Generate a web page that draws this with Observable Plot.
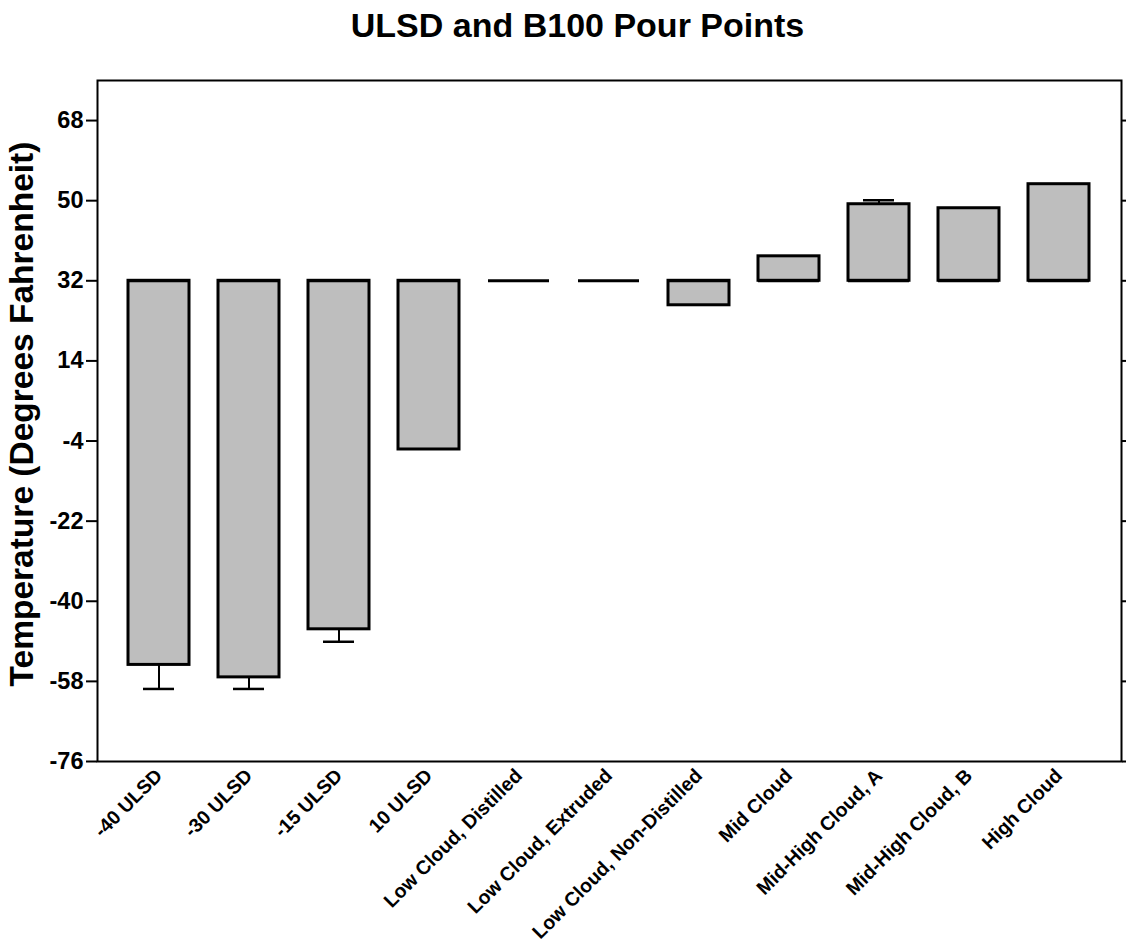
<!DOCTYPE html>
<html>
<head>
<meta charset="utf-8">
<script src="https://cdn.jsdelivr.net/npm/d3@7"></script>
<script src="https://cdn.jsdelivr.net/npm/@observablehq/plot@0.6"></script>
<style>
  html, body { margin: 0; padding: 0; background: #fff; }
  #chart svg { display: block; }
</style>
</head>
<body>
<div id="chart"></div>
<script>
const categories = ["-40 ULSD", "-30 ULSD", "-15 ULSD", "10 ULSD", "Low Cloud, Distilled", "Low Cloud, Extruded", "Low Cloud, Non-Distilled", "Mid Cloud", "Mid-High Cloud, A", "Mid-High Cloud, B", "High Cloud"];
const pourPoints = [-54.3, -57.1, -46.3, -5.9, 32, 32, 26.5, 37.5, 49.2, 48.3, 53.7];
const errors = [5.4, 2.6, 2.8, 0, 0, 0, 0, 0, 0.9, 0, 0];
const baseline = 32;
const yTicks = [-76, -58, -40, -22, -4, 14, 32, 50, 68];
const title = "ULSD and B100 Pour Points";
const yLabel = "Temperature (Degrees Fahrenheit)";

const data = categories.map((name, i) => ({
  name,
  value: pourPoints[i],
  err: errors[i],
  end: pourPoints[i] + Math.sign(pourPoints[i] - baseline) * errors[i]
}));
const errData = data.filter(d => d.err > 0);

const chart = Plot.plot({
  width: 1126,
  height: 952,
  marginLeft: 97,
  marginRight: 5,
  marginTop: 80,
  marginBottom: 191,
  style: { fontFamily: "'Liberation Sans', Arial, sans-serif", color: "#000", background: "#fff" },
  x: { domain: categories, padding: 0.32, label: null },
  y: { domain: [-76, 77], label: null },
  marks: [
    Plot.axisY({ ticks: yTicks, tickSize: 11, tickPadding: 3, tickFormat: d => String(d), fontSize: 23.5, fontWeight: "bold", strokeWidth: 2, label: null }),
    Plot.axisY({ anchor: "right", ticks: yTicks, tickSize: 5, tickFormat: () => "", strokeWidth: 2, label: null }),
    Plot.axisX({ tickRotate: -45, tickSize: 0, tickPadding: 11, fontSize: 19.5, fontWeight: "bold", label: null }),
    Plot.barY(data, { x: "name", y1: baseline, y2: "value", fill: "#bebebe", stroke: "#000", strokeWidth: 3 }),
    Plot.tickY(data, { x: "name", y: baseline, stroke: "#000", strokeWidth: 3 }),
    Plot.ruleX(errData, { x: "name", y1: "value", y2: "end", stroke: "#000", strokeWidth: 2 }),
    Plot.tickY(errData, { x: "name", y: "end", stroke: "#000", strokeWidth: 2.5, insetLeft: 15, insetRight: 15 }),
    Plot.frame({ stroke: "#000", strokeWidth: 2 }),
    Plot.text([title], { frameAnchor: "top", lineAnchor: "middle", dx: -32, dy: -54, fontSize: 34, fontWeight: "bold", fill: "#000" }),
    Plot.text([yLabel], { frameAnchor: "left", textAnchor: "middle", lineAnchor: "middle", rotate: -90, dx: -75, dy: -7, fontSize: 33.5, fontWeight: "bold", fill: "#000" })
  ]
});
document.getElementById("chart").appendChild(chart);
</script>
</body>
</html>
